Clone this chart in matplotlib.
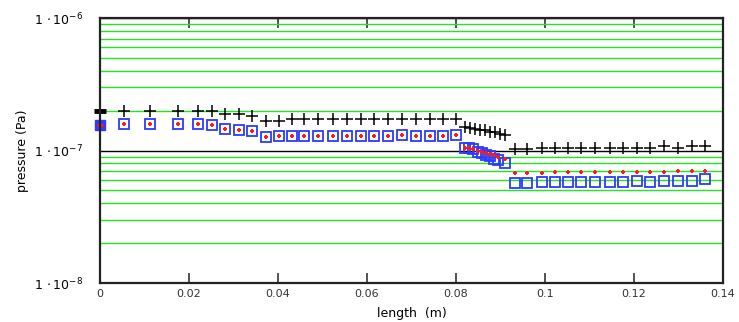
import math
import matplotlib
matplotlib.use('Agg')
import matplotlib.pyplot as plt
from matplotlib.ticker import LogLocator, FixedLocator, FuncFormatter, NullFormatter

# --- data (x in m, pressure in Pa) ---
x_main = [0.0053, 0.0112, 0.0175, 0.0221, 0.0252, 0.0281, 0.0312, 0.0342, 0.0374,
          0.0402, 0.0431, 0.0459, 0.0491, 0.0523, 0.0554, 0.0586, 0.0616, 0.0648,
          0.0678, 0.0710, 0.0742, 0.0771, 0.0800]
black_main = [2.0e-7, 2.0e-7, 2.0e-7, 2.0e-7, 2.0e-7, 1.89e-7, 1.89e-7, 1.83e-7, 1.67e-7,
              1.67e-7, 1.72e-7, 1.72e-7, 1.72e-7, 1.72e-7, 1.72e-7, 1.72e-7, 1.72e-7, 1.72e-7,
              1.72e-7, 1.72e-7, 1.72e-7, 1.72e-7, 1.72e-7]
blue_main = [1.58e-7, 1.58e-7, 1.58e-7, 1.58e-7, 1.56e-7, 1.45e-7, 1.43e-7, 1.40e-7, 1.27e-7,
             1.29e-7, 1.29e-7, 1.29e-7, 1.29e-7, 1.28e-7, 1.28e-7, 1.28e-7, 1.28e-7, 1.28e-7,
             1.30e-7, 1.28e-7, 1.28e-7, 1.28e-7, 1.30e-7]

x_black_step = [0.0820, 0.0831, 0.0843, 0.0854, 0.0865, 0.0876, 0.0888, 0.0899, 0.0910]
black_step = [1.50e-7, 1.47e-7, 1.46e-7, 1.43e-7, 1.42e-7, 1.39e-7, 1.37e-7, 1.34e-7, 1.31e-7]

x_blue_step = [0.0820, 0.0829, 0.0839, 0.0849, 0.0858, 0.0867, 0.0876, 0.0886, 0.0895, 0.0910]
blue_step = [1.05e-7, 1.04e-7, 1.02e-7, 0.98e-7, 0.95e-7, 0.93e-7, 0.91e-7, 0.87e-7, 0.85e-7, 0.80e-7]
red_step = [1.05e-7, 1.04e-7, 1.03e-7, 1.00e-7, 0.98e-7, 0.96e-7, 0.94e-7, 0.92e-7, 0.90e-7, 0.86e-7]

x_tail = [0.0933, 0.0959, 0.0993, 0.1022, 0.1052, 0.1082, 0.1112, 0.1146, 0.1175,
          0.1206, 0.1237, 0.1267, 0.1300, 0.1330, 0.1360]
black_tail = [1.02e-7, 1.02e-7, 1.05e-7, 1.05e-7, 1.05e-7, 1.05e-7, 1.05e-7, 1.05e-7, 1.05e-7,
              1.05e-7, 1.05e-7, 1.08e-7, 1.05e-7, 1.08e-7, 1.08e-7]
blue_tail = [5.65e-8, 5.65e-8, 5.75e-8, 5.75e-8, 5.75e-8, 5.75e-8, 5.75e-8, 5.75e-8, 5.75e-8,
             5.9e-8, 5.75e-8, 5.9e-8, 5.9e-8, 5.9e-8, 6.05e-8]
red_tail = [6.73e-8, 6.73e-8, 6.73e-8, 6.84e-8, 6.84e-8, 6.84e-8, 6.84e-8, 6.84e-8, 6.84e-8,
            6.84e-8, 6.84e-8, 6.84e-8, 7.0e-8, 7.0e-8, 7.0e-8]

# values at the inlet (x = 0)
x_inlet = [0.0]
black_inlet = [2.0e-7]
blue_inlet = [1.56e-7]

x_ticks = [0, 0.02, 0.04, 0.06, 0.08, 0.1, 0.12, 0.14]

GREEN = '#22e622'
BLUE = '#2a3cff'
RED = '#ff1a1a'

fig = plt.figure(figsize=(7.39, 3.22), dpi=100)
ax = fig.add_axes([0.1353, 0.121, 0.843, 0.823])

ax.set_yscale('log')
ax.set_xlim(0, 0.14)
ax.set_ylim(1e-8, 1e-6)

# grid: green minor decades, black major line at 1e-7
ax.yaxis.set_minor_locator(LogLocator(base=10, subs=range(2, 10)))
ax.yaxis.set_minor_formatter(NullFormatter())
ax.grid(which='minor', axis='y', color=GREEN, lw=1.0)
ax.grid(which='major', axis='y', color='black', lw=1.0)
ax.set_axisbelow(True)

# black + series
bx = x_main + x_black_step + x_tail
by = black_main + black_step + black_tail
ax.plot(bx, by, ls='none', marker='+', ms=9, mew=1.1, color='black', clip_on=False)

# blue open squares
sx = x_main + x_blue_step + x_tail
sy = blue_main + blue_step + blue_tail
ax.plot(sx, sy, ls='none', marker='s', ms=7, mew=1.3, mfc='none', mec=BLUE, clip_on=False)

# red small + series
ry = blue_main + red_step + red_tail
ax.plot(sx, ry, ls='none', marker='+', ms=3.5, mew=1.5, color=RED, clip_on=False)

# inlet markers
ax.plot(x_inlet, black_inlet, ls='none', marker='_', ms=8, mew=3.5, color='black', clip_on=False)
ax.plot(x_inlet, blue_inlet, ls='none', marker='s', ms=7.5, mew=1, mfc=BLUE, mec=BLUE, clip_on=False)
ax.plot(x_inlet, blue_inlet, ls='none', marker='_', ms=5, mew=2.5, color=RED, clip_on=False)

# ticks
ax.xaxis.set_major_locator(FixedLocator(x_ticks))
ax.xaxis.set_major_formatter(FuncFormatter(lambda v, p: '%g' % v))
ax.tick_params(axis='x', which='major', direction='in', length=7, width=1.2,
               top=True, bottom=True, labelsize=8, pad=4, colors='#333333')
ax.tick_params(axis='y', which='both', length=0, pad=12, labelsize=9)
ax.yaxis.set_major_locator(FixedLocator([1e-8, 1e-7, 1e-6]))
ax.yaxis.set_major_formatter(FuncFormatter(lambda v, p: r'$1\,\cdot 10^{%d}$' % round(math.log10(v))))

for s in ax.spines.values():
    s.set_linewidth(1.6)
    s.set_color('#222222')

ax.set_xlabel('length  (m)', fontsize=9, labelpad=6)
ax.set_ylabel('pressure (Pa)', fontsize=9, labelpad=4)

fig.savefig('out.png', dpi=100)
